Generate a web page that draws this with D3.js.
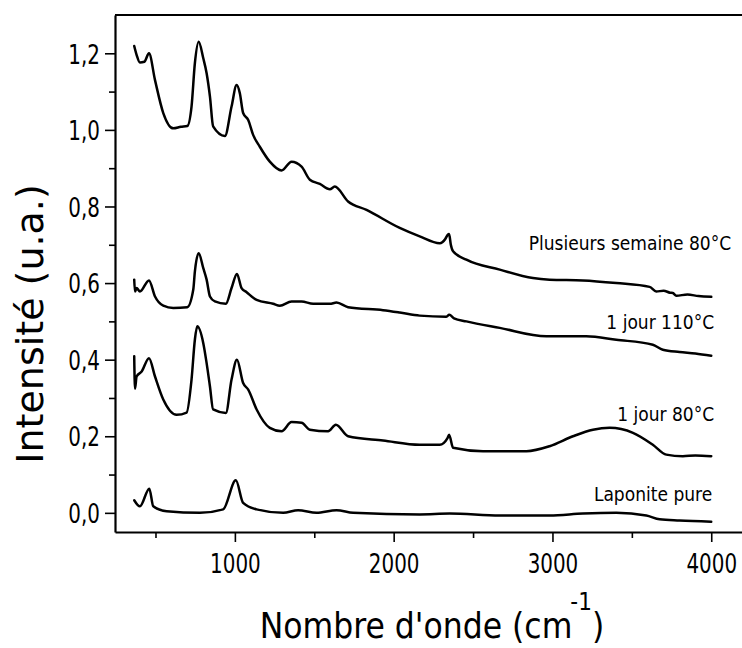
<!DOCTYPE html>
<html><head><meta charset="utf-8">
<script src="https://cdn.jsdelivr.net/npm/d3@7"></script>
<style>
html,body{margin:0;padding:0;background:#fff;}
svg{display:block;}
</style></head>
<body>
<svg id="chart" width="742" height="648"></svg>
<script>
// ---------- data ----------
const categories = ["Plusieurs semaine 80°C", "1 jour 110°C", "1 jour 80°C", "Laponite pure"];

const wnPlusieurs = [366,381,402,430,459,497,549,612,660,700,727,748,772,801,822,843,863,937,979,1011,1031,1052,1084,1115,1157,1220,1294,1357,1420,1472,1535,1598,1629,1713,1829,2038,2164,2290,2325,2340,2349,2360,2374,2458,2668,2877,2982,3192,3402,3612,3654,3700,3740,3758,3780,3850,3920,4000];
const valPlusieurs = [1.219,1.196,1.176,1.178,1.200,1.130,1.044,1.004,1.008,1.010,1.061,1.174,1.230,1.187,1.148,1.087,1.009,0.984,1.061,1.117,1.096,1.044,1.026,0.987,0.956,0.917,0.894,0.917,0.904,0.870,0.859,0.845,0.852,0.813,0.791,0.744,0.722,0.704,0.715,0.726,0.728,0.700,0.683,0.661,0.635,0.613,0.609,0.607,0.600,0.590,0.578,0.580,0.575,0.574,0.567,0.570,0.566,0.564];

const wn110 = [366,371,381,402,459,497,549,612,700,738,748,772,801,822,843,874,943,979,1013,1042,1074,1137,1241,1283,1357,1420,1493,1598,1640,1713,1933,2038,2164,2330,2350,2380,2458,2668,2962,3213,3402,3632,3695,3800,3900,4000];
const val110 = [0.609,0.578,0.587,0.578,0.607,0.565,0.541,0.535,0.537,0.583,0.630,0.678,0.639,0.609,0.565,0.552,0.546,0.587,0.624,0.587,0.576,0.556,0.546,0.541,0.552,0.552,0.546,0.546,0.549,0.537,0.529,0.523,0.515,0.512,0.517,0.508,0.500,0.483,0.461,0.461,0.452,0.439,0.426,0.420,0.416,0.410];

const wn80 = [366,371,381,413,459,497,549,633,696,727,748,763,801,822,843,863,943,979,1013,1052,1084,1137,1220,1294,1357,1420,1472,1587,1636,1713,1933,2164,2290,2340,2349,2374,2563,2836,2982,3129,3255,3360,3507,3632,3717,3821,3900,4000];
const val80 = [0.409,0.324,0.356,0.369,0.404,0.356,0.296,0.256,0.262,0.348,0.452,0.487,0.443,0.391,0.330,0.270,0.261,0.348,0.400,0.339,0.322,0.270,0.222,0.213,0.237,0.235,0.217,0.213,0.230,0.200,0.189,0.178,0.178,0.196,0.204,0.170,0.161,0.161,0.174,0.200,0.217,0.222,0.209,0.178,0.152,0.148,0.150,0.148];

const wnLaponite = [366,402,461,486,570,780,926,1006,1052,1137,1304,1398,1514,1640,1745,2164,2353,2668,2982,3192,3402,3591,3675,3800,4000];
const valLaponite = [0.033,0.017,0.063,0.017,0.004,0.000,0.009,0.085,0.026,0.009,0.000,0.007,0.000,0.007,0.000,-0.004,-0.002,-0.007,-0.007,-0.002,0.000,-0.007,-0.017,-0.020,-0.023];

const xMajorTicks = [1000, 2000, 3000, 4000];
const xMinorTicks = [500, 1500, 2500, 3500];
const yMajorTicks = [0, 0.2, 0.4, 0.6, 0.8, 1.0, 1.2];
const yMinorTicks = [0.1, 0.3, 0.5, 0.7, 0.9, 1.1];
const xTitle = "Nombre d'onde (cm";
const xTitleSup = "-1";
const yTitle = "Intensité (u.a.)";

const seriesWn = [wnPlusieurs, wn110, wn80, wnLaponite];
const seriesVal = [valPlusieurs, val110, val80, valLaponite];

// ---------- layout ----------
const svg = d3.select("#chart");
const margin = {left: 115, top: 15, right: -1, bottom: 116};
const W = 742, H = 648;
const innerW = W - margin.left - margin.right;
const innerH = H - margin.top - margin.bottom;

const x = d3.scaleLinear().domain([245, 4200]).range([0, innerW]);
const y = d3.scaleLinear().domain([-0.05, 1.30]).range([innerH, 0]);

const g = svg.append("g").attr("transform", `translate(${margin.left},${margin.top})`);

const tickFont = "'DejaVu Sans Condensed', 'DejaVu Sans', sans-serif";
const squeeze = 0.82;

// axes
const fmt = v => d3.format(".1f")(v).replace(".", ",");

const xAxis = g.append("g").attr("transform", `translate(0,${innerH})`)
  .call(d3.axisBottom(x).tickValues(xMajorTicks).tickSize(10).tickSizeOuter(0).tickFormat(d3.format("d")));
g.append("g").attr("transform", `translate(0,${innerH})`)
  .call(d3.axisBottom(x).tickValues(xMinorTicks).tickSize(6).tickSizeOuter(0).tickFormat(""))
  .select(".domain").remove();

const yAxis = g.append("g")
  .call(d3.axisLeft(y).tickValues(yMajorTicks).tickSize(10).tickSizeOuter(0).tickFormat(fmt));
g.append("g")
  .call(d3.axisLeft(y).tickValues(yMinorTicks).tickSize(6).tickSizeOuter(0).tickFormat(""))
  .select(".domain").remove();

g.selectAll(".tick line").attr("stroke", "#000").attr("stroke-width", 1.6);
g.selectAll(".domain").attr("stroke", "#000").attr("stroke-width", 2.2);

xAxis.selectAll("text")
  .attr("font-family", tickFont).attr("font-size", 27).attr("fill", "#000")
  .attr("x", 0).attr("y", 41).attr("dy", 0)
  .attr("transform", `scale(${squeeze},1)`);
yAxis.selectAll("text")
  .attr("font-family", tickFont).attr("font-size", 27).attr("fill", "#000")
  .attr("x", -15 / squeeze).attr("dy", "0.36em")
  .attr("transform", `scale(${squeeze},1)`);

// top frame line
g.append("line").attr("x1", 0).attr("x2", innerW).attr("y1", 0).attr("y2", 0)
  .attr("stroke", "#000").attr("stroke-width", 2.2);

// lines
const line = d3.line().x(d => x(d[0])).y(d => y(d[1])).curve(d3.curveMonotoneX);
seriesWn.forEach((wns, i) => {
  const pts = wns.map((w, j) => [w, seriesVal[i][j]]);
  g.append("path").datum(pts).attr("d", line)
    .attr("fill", "none").attr("stroke", "#000").attr("stroke-width", 2.5)
    .attr("stroke-linejoin", "round").attr("stroke-linecap", "round");
});

// series labels
const labelAnchors = [
  {x: x(4000) + 20, y: y(0.686)},
  {x: x(4000) + 3,  y: y(0.480)},
  {x: x(4000) + 3,  y: y(0.240)},
  {x: x(4000) + 1,  y: y(0.031)}
];
categories.forEach((c, i) => {
  g.append("text").attr("x", labelAnchors[i].x).attr("y", labelAnchors[i].y)
    .attr("text-anchor", "end").attr("font-family", tickFont).attr("font-size", 19)
    .attr("fill", "#000").text(c);
});

// axis titles
const xt = svg.append("text").attr("x", 432).attr("y", 638)
  .attr("text-anchor", "middle").attr("font-family", tickFont).attr("font-size", 35).attr("fill", "#000");
xt.append("tspan").text(xTitle);
xt.append("tspan").attr("font-size", 24).attr("dy", -28).attr("dx", -2).text(xTitleSup);
xt.append("tspan").attr("dy", 28).text(")");

svg.append("text").attr("transform", "translate(43,324) rotate(-90)")
  .attr("text-anchor", "middle").attr("font-family", "'DejaVu Sans', sans-serif")
  .attr("font-size", 38).attr("fill", "#000").text(yTitle);
</script>
</body></html>
